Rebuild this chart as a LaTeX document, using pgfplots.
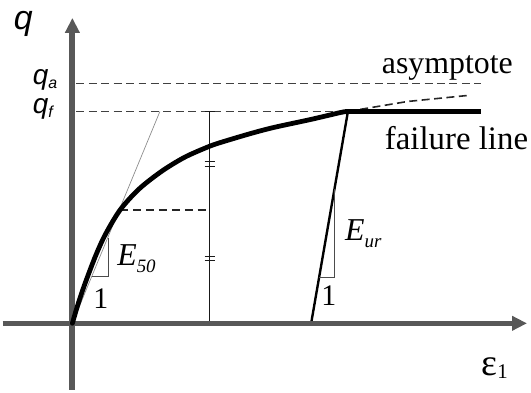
\documentclass[border=0pt]{standalone}
\usepackage{pgfplots}
\pgfplotsset{compat=1.18}
\usepackage{fontspec}
\setmainfont{Liberation Serif}
\newfontfamily\sansq{Liberation Sans}
\usetikzlibrary{arrows.meta}
\definecolor{axisgray}{HTML}{585858}
\definecolor{dashgray}{HTML}{404040}
\begin{document}
\begin{tikzpicture}
\begin{axis}[width=531pt,height=392pt,scale only axis,
  xmin=0,xmax=531,ymin=0,ymax=392,hide axis,clip=false]
\path (axis cs:0,0) rectangle (axis cs:531,392);
% dashed reference lines
\addplot[dashgray,line width=1.5pt,dash pattern=on 8pt off 4.5pt] coordinates {(74,308) (481,308)};
\addplot[dashgray,line width=1.5pt,dash pattern=on 8pt off 4.5pt] coordinates {(74,280) (481,280)};
\addplot[black!85,line width=1.6pt,dash pattern=on 8pt off 4.5pt] coordinates {(347,280) (407,290) (467,296)};
\addplot[black!85,line width=2.5pt,dash pattern=on 8pt off 5pt] coordinates {(118,181) (208,181)};
% secant E50
\addplot[black!45,line width=0.7pt] coordinates {(70,67) (158,280)};
% vertical measure line with caps and ticks
\addplot[black!90,line width=1.3pt] coordinates {(208,67) (208,280)};
\addplot[black!90,line width=1.1pt] coordinates {(203,280) (213,280)};
\addplot[black!90,line width=1.1pt] coordinates {(203,225) (213,225)};
\addplot[black!90,line width=1.1pt] coordinates {(203,229.5) (213,229.5)};
\addplot[black!90,line width=1.1pt] coordinates {(203,130) (213,130)};
\addplot[black!90,line width=1.1pt] coordinates {(203,134.5) (213,134.5)};
% E50 triangle
\addplot[black!70,line width=1pt] coordinates {(89.5,114) (106,114) (106,153)};
% unloading line and triangle
\addplot[black,line width=2.4pt] coordinates {(310,67) (347,280)};
\addplot[black!70,line width=1pt] coordinates {(318,113) (333.4,113) (333.4,202)};
% axes
\addplot[axisgray,line width=5.5pt,-{Triangle[width=14pt,length=15pt]}] coordinates {(0,67) (527,67)};
\addplot[axisgray,line width=6pt,-{Triangle[width=14pt,length=15pt]}] coordinates {(70,0) (70,374)};
% main curve
\addplot[black,line width=4.8pt,smooth,line cap=round] coordinates {
(70,67) (75,84) (82,105) (93,134) (103,156) (118,181) (137,202) (160,220)
(183,234) (208,245) (223,250) (250,258) (273,264) (310,272) (340,279) (347,280)};
\addplot[black,line width=4.8pt] coordinates {(346,280) (481,280)};
% labels
\node[anchor=base west,inner sep=0] at (axis cs:381,318) {\fontsize{32}{36}\selectfont asymptote};
\node[anchor=base west,inner sep=0] at (axis cs:384,242) {\fontsize{33}{37}\selectfont failure line};
\node[anchor=base west,inner sep=0] at (axis cs:11,362) {\sansq\itshape\fontsize{34}{38}\selectfont q};
\node[anchor=base west,inner sep=0] at (axis cs:30,307) {\sansq\itshape\fontsize{28}{30}\selectfont q\raisebox{-4pt}{\fontsize{16}{18}\selectfont a}};
\node[anchor=base west,inner sep=0] at (axis cs:30,278) {\sansq\itshape\fontsize{28}{30}\selectfont q\raisebox{-4pt}{\fontsize{16}{18}\selectfont f}};
\node[anchor=base west,inner sep=0] at (axis cs:115,125) {\itshape\fontsize{32}{34}\selectfont E\raisebox{-7pt}{\fontsize{19}{21}\selectfont 50}};
\node[anchor=base west,inner sep=0] at (axis cs:91,82) {\fontsize{30}{32}\selectfont 1};
\node[anchor=base west,inner sep=0] at (axis cs:344,150) {\itshape\fontsize{32}{34}\selectfont E\raisebox{-7pt}{\fontsize{19}{21}\selectfont ur}};
\node[anchor=base west,inner sep=0] at (axis cs:320,85) {\fontsize{30}{32}\selectfont 1};
\node[anchor=base west,inner sep=0] at (axis cs:481,15) {\fontsize{38}{40}\selectfont ε\raisebox{-3pt}{\fontsize{21}{23}\selectfont 1}};
\end{axis}
\end{tikzpicture}
\end{document}
